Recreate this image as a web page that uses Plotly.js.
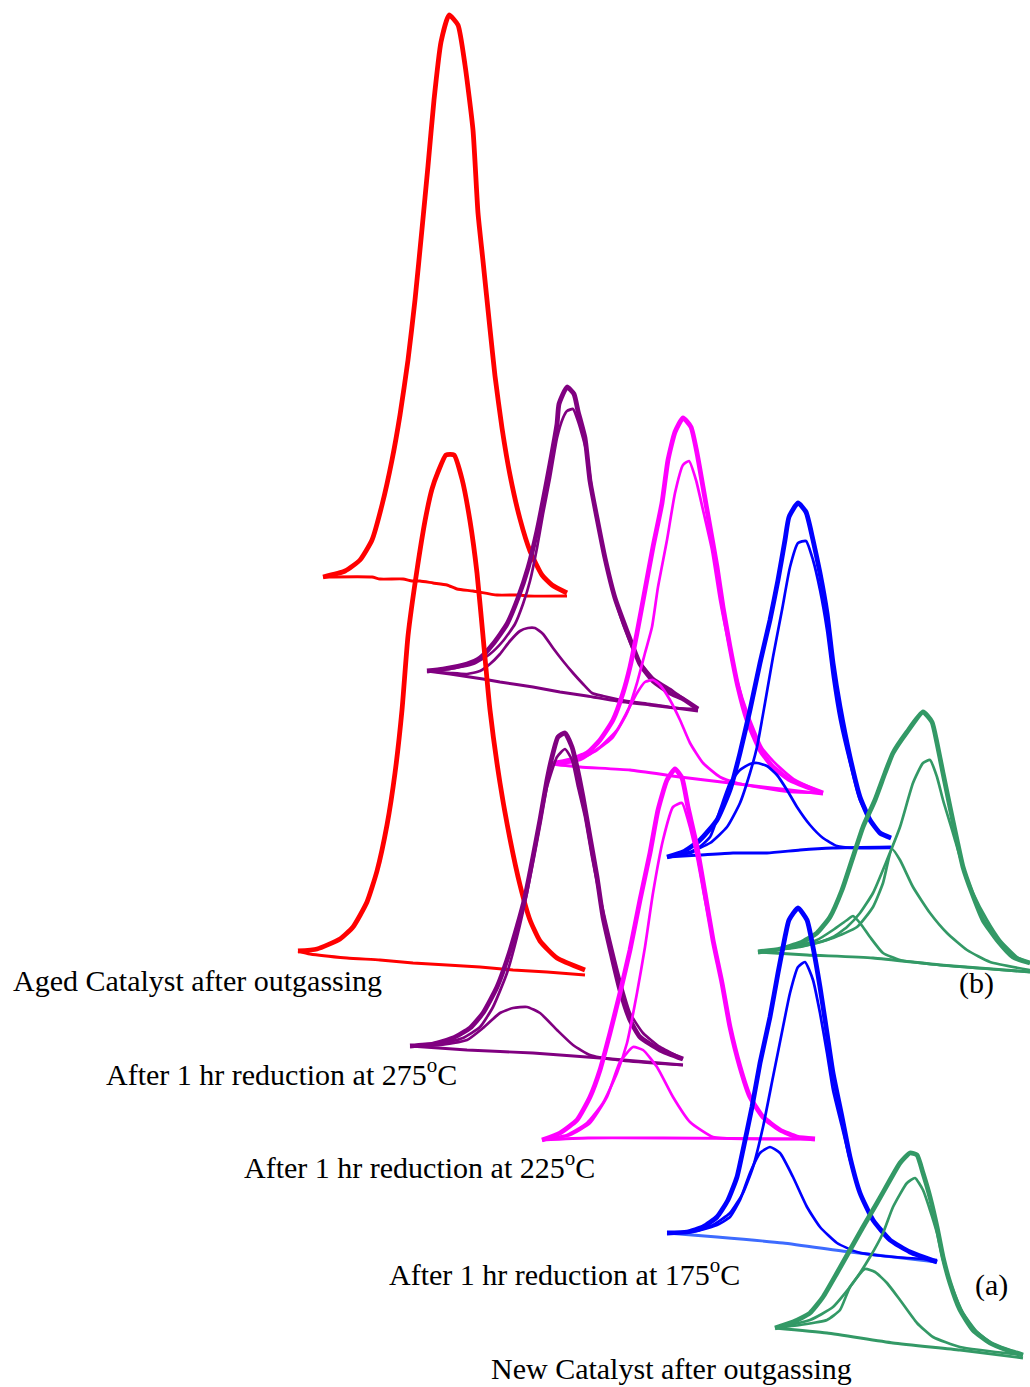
<!DOCTYPE html>
<html>
<head>
<meta charset="utf-8">
<script src="https://cdn.plot.ly/plotly-3.0.1.min.js"></script>
<style>html,body{margin:0;padding:0;background:#fff;}#chart{width:1030px;height:1387px;}</style>
</head>
<body>
<div id="chart"></div>
<script>
// ---- Traced curves (horizontal position, vertical position) in the figure's own coordinate frame ----
// Panel (b): Aged catalyst after outgassing (red)
const redB_peak_x = [323,345,360,372,382,392,400,408,415,422,428,434,441,449,458,465,473,478,483,490,495,502,510,520,530,542,552,567];
const redB_peak_y = [577,571,560,540,505,460,415,360,300,229,166,100,42,15,25,65,130,213,261,329,376,428,475,519,551,575,585,593];
const redB_base_x = [323,372,380,403,412,420,433,447,457,473,497,520,527,567];
const redB_base_y = [577,577,579,579,581,581,583,585,589,591,595,595,596,596];

// Panel (b): 275 C (purple)
const purB_total_x = [427,443,467,480,493,507,518,528,537,543,550,557,559,567,574,578,585,590,597,605,615,627,640,653,670,683,698];
const purB_total_y = [671,669,664,658,644,624,598,568,531,501,464,424,404,387,394,411,438,481,518,558,598,631,664,681,693,699,709];
const purB_main_x = [427,450,473,490,503,515,523,530,537,543,550,557,563,567,573,578,583,587,593,602,612,623,637,653,673,698];
const purB_main_y = [671,669,664,654,641,624,604,581,548,514,478,438,418,411,409,421,438,454,498,544,588,624,658,678,691,709];
const purB_small_x = [427,450,467,480,490,500,510,520,528,535,543,553,563,573,583,592,603,627,650,677,698];
const purB_small_y = [671,673,674,671,664,654,641,631,628,628,634,648,661,673,684,693,696,701,704,708,709];
const purB_base_x = [427,450,483,500,533,560,587,617,650,683,698];
const purB_base_y = [671,674,679,682,687,692,696,701,705,709,711];

// Panel (b): 225 C (magenta)
const magB_total_x = [550,570,587,600,613,623,630,637,645,653,662,668,675,683,691,697,703,710,717,723,730,738,747,760,773,790,807,823];
const magB_total_y = [764,760,753,740,720,693,667,633,590,547,503,460,432,418,427,453,487,527,567,607,647,687,720,750,767,780,787,793];
const magB_main_x = [550,573,597,613,627,637,645,652,658,667,675,683,689,696,703,712,720,728,737,748,762,777,795,823];
const magB_main_y = [764,762,750,737,713,683,653,627,587,540,493,465,461,480,510,550,600,640,680,715,748,765,780,793];
const magB_small_x = [550,580,600,617,628,637,645,653,660,670,680,690,703,720,737,763,790,823];
const magB_small_y = [764,760,747,730,710,693,682,680,685,700,720,743,763,777,783,788,792,793];
const magB_base_x = [550,580,630,680,730,763,790,823];
const magB_base_y = [764,767,770,777,783,787,790,794];

// Panel (b): 175 C (blue)
const bluB_total_x = [667,683,700,717,730,740,750,760,770,778,785,789,798,806,813,820,827,833,840,850,860,870,880,891];
const bluB_total_y = [857,852,840,820,790,753,710,663,620,580,540,517,503,512,540,573,613,663,707,757,797,820,833,838];
const bluB_main_x = [667,690,710,727,740,750,757,765,773,782,790,798,806,813,820,827,833,840,850,860,870,880,891];
const bluB_main_y = [857,852,843,827,803,773,747,703,657,610,567,543,541,560,590,630,677,720,763,800,820,833,838];
const bluB_small_x = [667,693,710,720,730,740,750,757,767,777,787,797,810,823,837,853,891];
const bluB_small_y = [857,852,837,810,783,770,764,763,766,775,790,807,825,838,846,848,848];
const bluB_base_x = [667,700,733,767,800,833,891];
const bluB_base_y = [857,855,853,853,850,848,847];

// Panel (b): New catalyst after outgassing (green)
const grnB_total_x = [758,780,800,817,830,842,852,863,875,885,893,907,923,932,937,943,950,957,963,972,983,997,1013,1030];
const grnB_total_y = [952,949,943,933,917,890,860,827,800,773,753,732,712,722,743,773,807,840,867,893,920,940,957,963];
const grnB_main_x = [758,790,817,833,847,860,873,887,900,913,923,930,937,943,953,963,973,987,1000,1017,1030];
const grnB_main_y = [952,948,943,937,927,913,893,860,827,783,763,760,777,800,833,867,893,920,940,957,963];
const grnB_mid_x = [758,800,833,857,873,883,892,900,913,930,947,967,990,1030];
const grnB_mid_y = [952,947,938,927,907,883,849,860,887,913,933,950,962,970];
const grnB_small_x = [758,790,817,833,847,853,860,870,883,900,940,1030];
const grnB_small_y = [952,948,940,930,920,916,923,937,953,960,965,972];
const grnB_base_x = [758,807,873,940,1030];
const grnB_base_y = [952,955,958,965,972];

// Panel (a): Aged catalyst after outgassing (red)
const redA_peak_x = [298,317,340,353,367,377,387,395,402,408,417,425,432,438,446,454,462,470,477,483,490,500,510,520,530,540,557,585];
const redA_peak_y = [951,949,939,927,902,871,825,773,710,636,570,521,489,472,455,455,479,521,573,636,710,783,839,885,920,941,958,970];
const redA_base_x = [298,310,347,380,413,447,480,513,547,585];
const redA_base_y = [951,954,958,960,963,965,967,970,972,975];

// Panel (a): 275 C (purple)
const purA_total_x = [410,433,453,470,483,497,507,517,525,533,540,547,552,558,565,572,577,583,590,597,603,612,620,630,640,660,683];
const purA_total_y = [1046,1044,1038,1028,1013,987,960,927,897,857,820,780,757,737,733,747,767,797,837,877,917,957,990,1020,1037,1050,1059];
const purA_main_x = [410,440,463,480,493,507,517,527,537,547,557,565,572,578,585,592,600,610,620,630,643,660,683];
const purA_main_y = [1046,1044,1038,1027,1007,973,937,893,840,787,757,749,760,787,817,857,897,940,980,1013,1033,1047,1059];
const purA_small_x = [410,440,467,483,500,513,527,540,557,573,590,617,650,683];
const purA_small_y = [1046,1045,1040,1028,1013,1008,1007,1013,1030,1045,1055,1060,1063,1065];
const purA_base_x = [410,467,533,600,683];
const purA_base_y = [1046,1050,1053,1058,1065];

// Panel (a): 225 C (magenta)
const magA_total_x = [542,560,577,590,600,610,620,630,640,650,658,667,675,682,688,697,705,713,722,730,740,750,763,780,797,815];
const magA_total_y = [1140,1133,1120,1097,1070,1033,993,950,900,853,810,780,769,778,807,847,893,940,983,1027,1067,1097,1117,1130,1137,1139];
const magA_main_x = [542,567,587,603,617,627,637,645,653,663,673,682,688,697,705,713,722,730,740,750,763,780,797,815];
const magA_main_y = [1140,1135,1123,1103,1073,1043,993,947,893,840,807,803,820,857,900,940,983,1027,1067,1097,1117,1130,1137,1139];
const magA_small_x = [542,570,590,607,620,633,643,657,673,690,713,747,815];
const magA_small_y = [1140,1135,1123,1097,1062,1047,1050,1067,1097,1122,1137,1139,1139];
const magA_base_x = [542,588,663,815];
const magA_base_y = [1140,1138,1138,1139];

// Panel (a): 175 C (blue)
const bluA_total_x = [667,687,703,717,728,737,743,752,760,770,778,785,789,798,807,813,820,827,833,842,850,860,873,890,910,937];
const bluA_total_y = [1233,1232,1227,1217,1200,1177,1150,1107,1063,1017,973,937,920,908,920,947,987,1033,1073,1117,1157,1193,1220,1240,1252,1262];
const bluA_main_x = [667,693,713,730,743,753,763,773,783,790,798,805,813,820,827,833,842,850,860,873,890,910,937];
const bluA_main_y = [1233,1232,1225,1213,1193,1167,1127,1077,1027,993,967,962,980,1013,1053,1090,1127,1160,1193,1220,1240,1252,1262];
const bluA_small_x = [667,697,717,730,740,750,760,770,780,793,807,820,837,857,883,937];
const bluA_small_y = [1233,1231,1225,1217,1200,1173,1153,1147,1153,1177,1207,1227,1243,1252,1256,1260];
const bluA_base_x = [667,717,783,850,937];
const bluA_base_y = [1233,1237,1243,1252,1262];

// Panel (a): New catalyst after outgassing (green)
const grnA_total_x = [775,793,810,823,837,850,863,877,890,900,910,917,923,930,937,943,950,960,973,990,1007,1023];
const grnA_total_y = [1328,1322,1313,1297,1273,1250,1227,1203,1180,1163,1153,1155,1173,1197,1227,1257,1283,1310,1330,1343,1350,1355];
const grnA_main_x = [775,810,833,853,870,883,893,907,915,923,930,937,943,952,963,977,993,1023];
const grnA_main_y = [1328,1320,1307,1283,1257,1233,1207,1183,1178,1190,1210,1233,1260,1287,1313,1332,1344,1355];
const grnA_small_x = [775,800,827,840,850,865,875,887,900,917,933,960,1023];
const grnA_small_y = [1328,1325,1320,1310,1287,1269,1272,1283,1300,1323,1337,1347,1355];
const grnA_base_x = [775,827,893,960,1023];
const grnA_base_y = [1328,1333,1343,1350,1358];

// Labels
const labelTexts = [
  "Aged Catalyst after outgassing",
  "After 1 hr reduction at 275<sup>o</sup>C",
  "After 1 hr reduction at 225<sup>o</sup>C",
  "After 1 hr reduction at 175<sup>o</sup>C",
  "New Catalyst after outgassing",
  "(b)",
  "(a)"
];
const labelX = [11, 104, 242, 387, 489, 957, 973];
const labelY = [980, 1072, 1165, 1272, 1368, 983, 1285];

// Colours
const RED = "#ff0000", PUR = "#800080", MAG = "#ff00ff", BLU = "#0000ff", BLU2 = "#3d6bff", GRN = "#339966";

function ln(x, y, color, width) {
  return {type: "scatter", mode: "lines", x: x, y: y, hoverinfo: "skip",
          line: {color: color, width: width, shape: "spline", smoothing: 0.5}};
}
const TH = 4.8, TN = 2.7, BS = 2.9;

const traces = [
  // panel (b)
  ln(redB_base_x, redB_base_y, RED, BS), ln(redB_peak_x, redB_peak_y, RED, TH),
  ln(purB_base_x, purB_base_y, PUR, BS), ln(purB_small_x, purB_small_y, PUR, TN),
  ln(purB_main_x, purB_main_y, PUR, TN), ln(purB_total_x, purB_total_y, PUR, TH),
  ln(magB_base_x, magB_base_y, MAG, BS), ln(magB_small_x, magB_small_y, MAG, TN),
  ln(magB_main_x, magB_main_y, MAG, TN), ln(magB_total_x, magB_total_y, MAG, TH),
  ln(bluB_base_x, bluB_base_y, BLU, BS), ln(bluB_small_x, bluB_small_y, BLU, TN),
  ln(bluB_main_x, bluB_main_y, BLU, TN), ln(bluB_total_x, bluB_total_y, BLU, TH),
  ln(grnB_base_x, grnB_base_y, GRN, BS), ln(grnB_small_x, grnB_small_y, GRN, TN),
  ln(grnB_mid_x, grnB_mid_y, GRN, TN), ln(grnB_main_x, grnB_main_y, GRN, TN),
  ln(grnB_total_x, grnB_total_y, GRN, TH),
  // panel (a)
  ln(redA_base_x, redA_base_y, RED, BS), ln(redA_peak_x, redA_peak_y, RED, TH),
  ln(purA_base_x, purA_base_y, PUR, BS), ln(purA_small_x, purA_small_y, PUR, TN),
  ln(purA_main_x, purA_main_y, PUR, TN), ln(purA_total_x, purA_total_y, PUR, TH),
  ln(magA_base_x, magA_base_y, MAG, BS), ln(magA_small_x, magA_small_y, MAG, TN),
  ln(magA_main_x, magA_main_y, MAG, TN), ln(magA_total_x, magA_total_y, MAG, TH),
  ln(bluA_base_x, bluA_base_y, BLU2, BS), ln(bluA_small_x, bluA_small_y, BLU, TN),
  ln(bluA_main_x, bluA_main_y, BLU, TN), ln(bluA_total_x, bluA_total_y, BLU, TH),
  ln(grnA_base_x, grnA_base_y, GRN, BS), ln(grnA_small_x, grnA_small_y, GRN, TN),
  ln(grnA_main_x, grnA_main_y, GRN, TN), ln(grnA_total_x, grnA_total_y, GRN, TH)
];

const annotations = labelTexts.map((t, i) => ({
  text: t, x: labelX[i], y: labelY[i], xref: "x", yref: "y",
  xanchor: "left", yanchor: "middle", showarrow: false,
  font: {family: "Liberation Serif, Times New Roman, serif", size: 30, color: "#000"}
}));

const layout = {
  width: 1030, height: 1387,
  margin: {l: 0, r: 0, t: 0, b: 0, pad: 0},
  paper_bgcolor: "#ffffff", plot_bgcolor: "#ffffff",
  showlegend: false,
  xaxis: {range: [0, 1030], visible: false, fixedrange: true},
  yaxis: {range: [1387, 0], visible: false, fixedrange: true},
  annotations: annotations
};

Plotly.newPlot("chart", traces, layout, {displayModeBar: false, staticPlot: true});
</script>
</body>
</html>
